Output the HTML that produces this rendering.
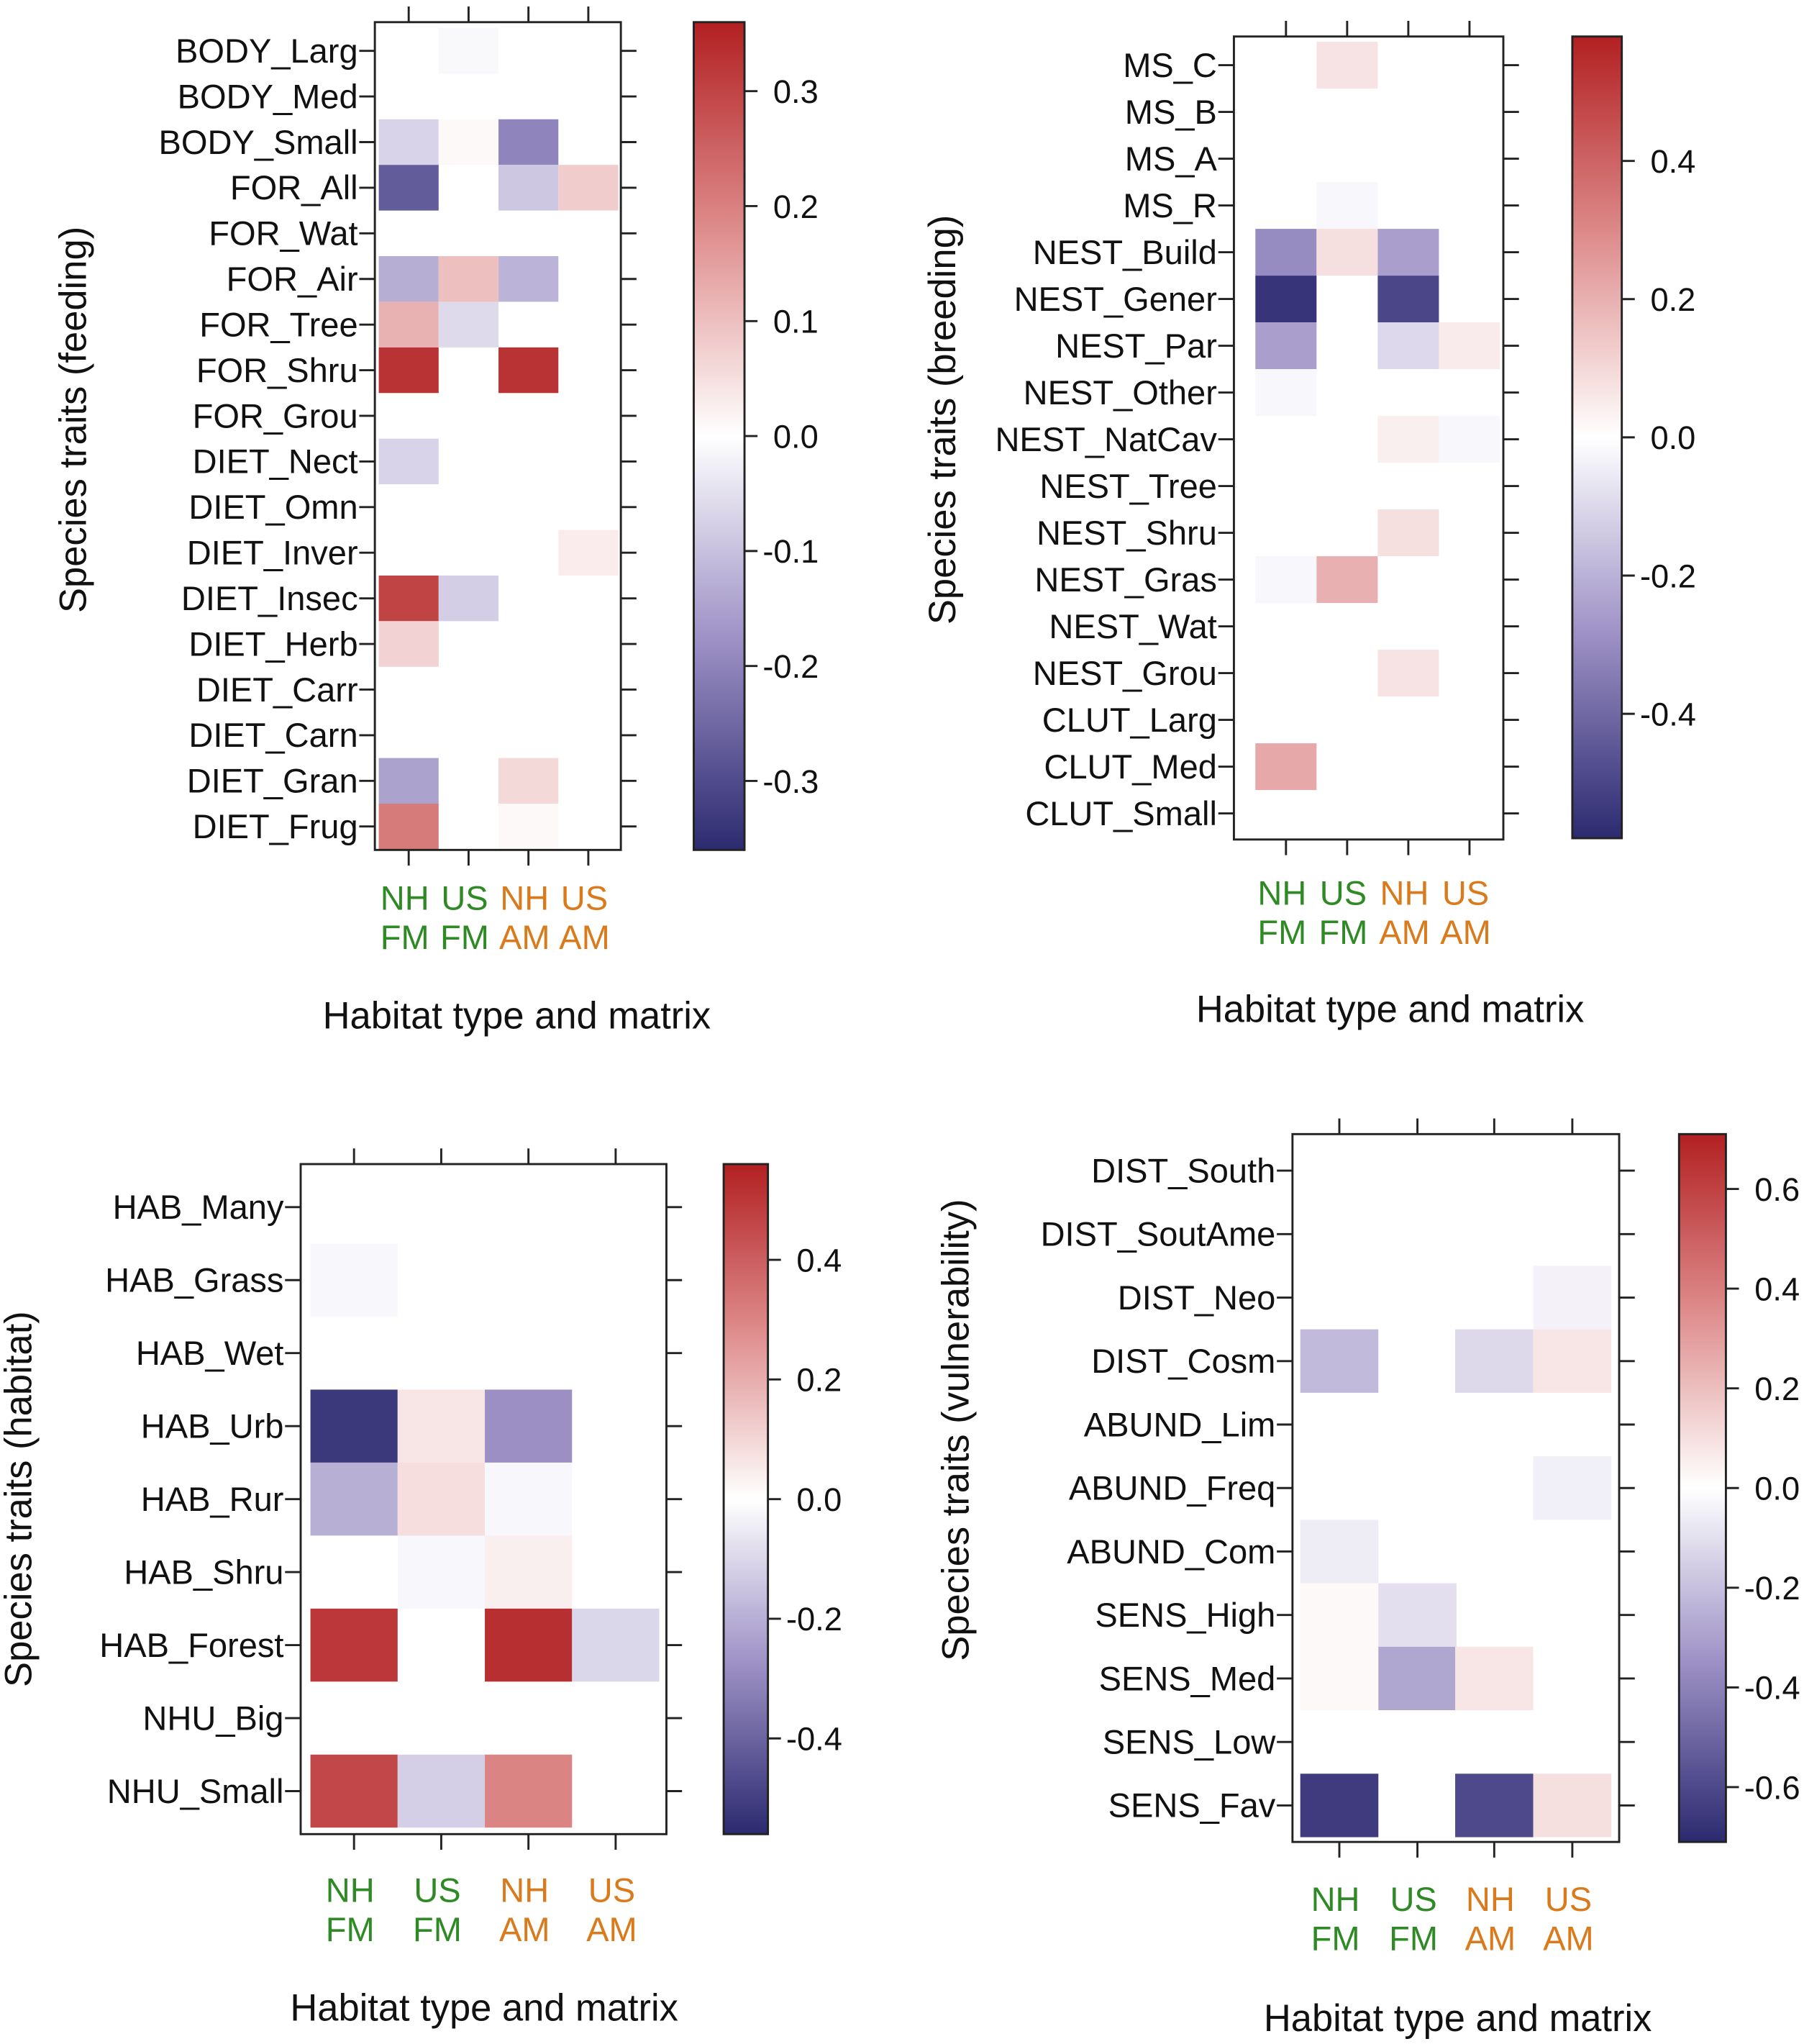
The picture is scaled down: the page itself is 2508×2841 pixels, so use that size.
<!DOCTYPE html>
<html><head><meta charset="utf-8"><style>
html,body{margin:0;padding:0;background:#fff}
svg{display:block}
text{font-family:"Liberation Sans",Arial,sans-serif;fill:#111}
</style></head><body>
<svg id="fig" width="2508" height="2841" viewBox="0 0 1386 1568" preserveAspectRatio="none" xmlns="http://www.w3.org/2000/svg"></svg>
<script>
const columns = ["NH FM","US FM","NH AM","US AM"];
const feedingRows = ["BODY_Larg","BODY_Med","BODY_Small","FOR_All","FOR_Wat","FOR_Air","FOR_Tree","FOR_Shru","FOR_Grou","DIET_Nect","DIET_Omn","DIET_Inver","DIET_Insec","DIET_Herb","DIET_Carr","DIET_Carn","DIET_Gran","DIET_Frug"];
const feedingValues = [[0,-0.01,0,0],[0,0,0,0],[-0.07,0.01,-0.2,0],[-0.27,0,-0.09,0.08],[0,0,0,0],[-0.13,0.1,-0.12,0],[0.12,-0.06,0,0],[0.33,0,0.33,0],[0,0,0,0],[-0.07,0,0,0],[0,0,0,0],[0,0,0,0.03],[0.3,-0.08,0,0],[0.07,0,0,0],[0,0,0,0],[0,0,0,0],[-0.15,0,0.06,0],[0.21,0,0.01,0]];
const feedingTicks = [0.3,0.2,0.1,0.0,-0.1,-0.2,-0.3];
const breedingRows = ["MS_C","MS_B","MS_A","MS_R","NEST_Build","NEST_Gener","NEST_Par","NEST_Other","NEST_NatCav","NEST_Tree","NEST_Shru","NEST_Gras","NEST_Wat","NEST_Grou","CLUT_Larg","CLUT_Med","CLUT_Small"];
const breedingValues = [[0,0.07,0,0],[0,0,0,0],[0,0,0,0],[0,-0.02,0,0],[-0.3,0.08,-0.25,0],[-0.55,0,-0.5,0],[-0.25,0,-0.1,0.05],[-0.02,0,0,0],[0,0,0.04,-0.02],[0,0,0,0],[0,0,0.08,0],[-0.02,0.2,0,0],[0,0,0,0],[0,0,0.07,0],[0,0,0,0],[0.22,0,0,0],[0,0,0,0]];
const breedingTicks = [0.4,0.2,0.0,-0.2,-0.4];
const habitatRows = ["HAB_Many","HAB_Grass","HAB_Wet","HAB_Urb","HAB_Rur","HAB_Shru","HAB_Forest","NHU_Big","NHU_Small"];
const habitatValues = [[0,0,0,0],[-0.02,0,0,0],[0,0,0,0],[-0.52,0.06,-0.28,0],[-0.2,0.08,-0.02,0],[0,-0.02,0.04,0],[0.5,0,0.52,-0.1],[0,0,0,0],[0.46,-0.12,0.3,0]];
const habitatTicks = [0.4,0.2,0.0,-0.2,-0.4];
const vulnRows = ["DIST_South","DIST_SoutAme","DIST_Neo","DIST_Cosm","ABUND_Lim","ABUND_Freq","ABUND_Com","SENS_High","SENS_Med","SENS_Low","SENS_Fav"];
const vulnValues = [[0,0,0,0],[0,0,0,0],[0,0,0,-0.04],[-0.22,0,-0.12,0.08],[0,0,0,0],[0,0,0,-0.05],[-0.06,0,0,0],[0.02,-0.1,0,0],[0.02,-0.28,0.08,0],[0,0,0,0],[-0.65,0,-0.6,0.1]];
const vulnTicks = [0.6,0.4,0.2,0.0,-0.2,-0.4,-0.6];

const NS="http://www.w3.org/2000/svg";
const svg=document.getElementById('fig');
function mk(tag,attrs,parent){const e=document.createElementNS(NS,tag);for(const k in attrs)e.setAttribute(k,attrs[k]);(parent||svg).appendChild(e);return e;}
function lerp(a,b,t){return a.map((v,i)=>Math.round(v+(b[i]-v)*t));}
function color(v,max){
  let t=Math.min(1,Math.abs(v)/max);
  const W=[255,255,255];
  if(v>=0){const M=[222,140,140],E=[178,32,34];return 'rgb('+(t<0.5?lerp(W,M,t*2):lerp(M,E,(t-0.5)*2)).join(',')+')';}
  const M=[155,143,196],E=[44,42,112];return 'rgb('+(t<0.5?lerp(W,M,t*2):lerp(M,E,(t-0.5)*2)).join(',')+')';
}
let gid=0;
function panel(p){
  const g=mk('g',{});
  
  
  const n=p.rows.length;
  const step=(p.rowLast-p.rowFirst)/(n-1);
  const yOf=i=>p.rowFirst+i*step;
  const cw=p.colX[1]-p.colX[0];
  p.values.forEach((row,i)=>row.forEach((v,j)=>{
    if(v===0)return;
    const r=mk('rect',{x:p.colX[j]-cw/2,y:yOf(i)-step/2,width:cw,height:step,fill:color(v,p.max)},g);
    
    
  }));
  const box=mk('rect',{x:p.box[0],y:p.box[1],width:p.box[2]-p.box[0],height:p.box[3]-p.box[1],fill:'none',stroke:'#222','stroke-width':1.6},g);
  
  
  p.rows.forEach((lab,i)=>{
    const y=yOf(i);
    mk('line',{x1:p.box[0]-12,x2:p.box[0],y1:y,y2:y,stroke:'#222','stroke-width':1.6},g);
    mk('line',{x1:p.box[2],x2:p.box[2]+12,y1:y,y2:y,stroke:'#222','stroke-width':1.6},g);
    const t=mk('text',{x:p.box[0]-13,y:y+9,'text-anchor':'end','font-size':p.fs},g);
    t.textContent=lab;
    
    
  });
  columns.forEach((c,j)=>{
    const x=p.colX[j];
    mk('line',{x1:x,x2:x,y1:p.box[1]-12,y2:p.box[1],stroke:'#222','stroke-width':1.6},g);
    mk('line',{x1:x,x2:x,y1:p.box[3],y2:p.box[3]+12,stroke:'#222','stroke-width':1.6},g);
    const parts=c.split(' ');
    const col=j<2?'#2f8a26':'#d97a1c';
    parts.forEach((s,k)=>{
      const t=mk('text',{x:x-3,y:p.xlabY+k*30,'text-anchor':'middle','font-size':p.fs,style:'fill:'+col},g);
      t.textContent=s;
      
      
    });
  });
  const xt=mk('text',{x:p.xTitle[0],y:p.xTitle[1],'text-anchor':'middle','font-size':29},g);
  xt.textContent='Habitat type and matrix';
  
  
  const yt=mk('text',{x:0,y:0,'text-anchor':'middle','font-size':29,transform:'translate('+p.yTitle[0]+','+p.yTitle[1]+') rotate(-90)'},g);
  yt.textContent=p.yTitleText;
  
  
  const id='grad'+(gid++);
  const defs=mk('defs',{},g);
  const lg=mk('linearGradient',{id:id,x1:0,y1:0,x2:0,y2:1},defs);
  for(let k=0;k<=20;k++){const v=p.max*(1-k/10);mk('stop',{offset:(k/20),'stop-color':color(v,p.max)},lg);}
  const cb=p.cb;
  const cbr=mk('rect',{x:cb[0],y:cb[1],width:cb[2]-cb[0],height:cb[3]-cb[1],fill:'url(#'+id+')',stroke:'#222','stroke-width':1.6},g);
  
  
  const mid=(cb[1]+cb[3])/2, half=(cb[3]-cb[1])/2;
  p.ticks.forEach(v=>{
    const y=mid-v/p.max*half;
    mk('line',{x1:cb[2],x2:cb[2]+10,y1:y,y2:y,stroke:'#222','stroke-width':1.6},g);
    const t=mk('text',{x:cb[2]+(v<0?14:22),y:y+9,'font-size':p.fs-1},g);
    t.textContent=v.toFixed(1);
    
    
  });
}
panel({name:'feeding-heatmap',rows:feedingRows,values:feedingValues,ticks:feedingTicks,max:0.36,
  box:[288,17,477,652],colX:[314,360,406,452],rowFirst:39,rowLast:634,fs:26,xlabY:698,
  xTitle:[397,789],yTitle:[66,322],yTitleText:'Species traits (feeding)',cb:[533,17,572,652]});
panel({name:'breeding-heatmap',rows:breedingRows,values:breedingValues,ticks:breedingTicks,max:0.58,
  box:[948,28,1155,644],colX:[988,1035,1082,1129],rowFirst:50,rowLast:624,fs:26,xlabY:694,
  xTitle:[1068,784],yTitle:[734,322],yTitleText:'Species traits (breeding)',cb:[1208,28,1246,643]});
panel({name:'habitat-heatmap',rows:habitatRows,values:habitatValues,ticks:habitatTicks,max:0.56,
  box:[231,893,512,1407],colX:[272,339,406,473],rowFirst:926,rowLast:1374,fs:26,xlabY:1459,
  xTitle:[372,1550],yTitle:[24,1150],yTitleText:'Species traits (habitat)',cb:[556,893,590,1407]});
panel({name:'vulnerability-heatmap',rows:vulnRows,values:vulnValues,ticks:vulnTicks,max:0.71,
  box:[993,870,1244,1413],colX:[1029,1089,1148,1208],rowFirst:898,rowLast:1385,fs:26,xlabY:1466,
  xTitle:[1120,1558],yTitle:[744,1097],yTitleText:'Species traits (vulnerability)',cb:[1290,870,1326,1413]});
</script>
</body></html>
